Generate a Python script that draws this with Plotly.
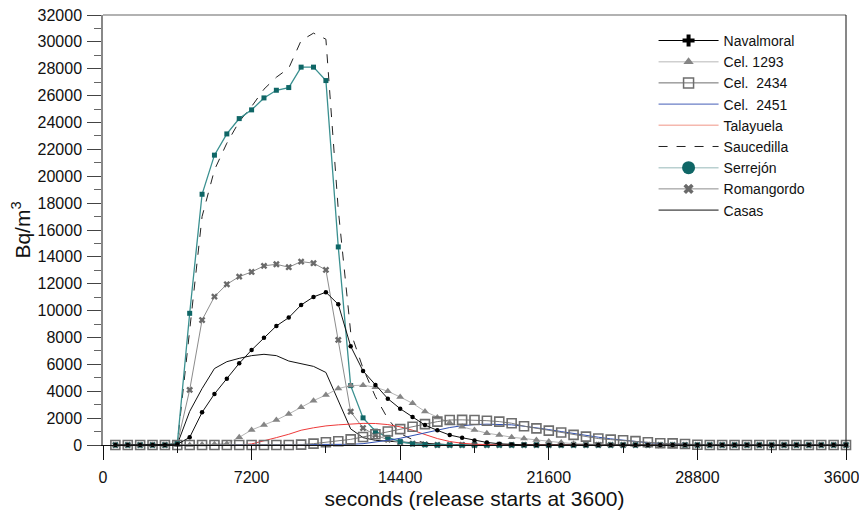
import plotly.graph_objects as go

# sample times (s)
times = [600, 1200, 1800, 2400, 3000, 3600, 4200, 4800, 5400, 6000,
         6600, 7200, 7800, 8400, 9000, 9600, 10200, 10800, 11400, 12000,
         12600, 13200, 13800, 14400, 15000, 15600, 16200, 16800, 17400, 18000,
         18600, 19200, 19800, 20400, 21000, 21600, 22200, 22800, 23400, 24000,
         24600, 25200, 25800, 26400, 27000, 27600, 28200, 28800, 29400, 30000,
         30600, 31200, 31800, 32400, 33000, 33600, 34200, 34800, 35400, 36000]

Z10 = [0] * 10

navalmoral = ([0, 0, 0, 0, 0, 50, 570, 2430, 3800, 4930] +
              [6080, 7070, 7990, 8860, 9480, 10420, 11020, 11370, 10470, 7350] +
              [5510, 4460, 3450, 2700, 2080, 1480, 1090, 740, 540, 340] +
              [190, 90, 30, 10, 0, 0, 0, 0, 0, 0] + Z10 + Z10)
cel1293 = ([0, 0, 0, 0, 0, 0, 0, 30, 60, 100] +
           [570, 1120, 1490, 1860, 2310, 2810, 3300, 3720, 4200, 4420] +
           [4450, 4300, 4000, 3570, 3100, 2500, 2050, 1650, 1350, 1120] +
           [880, 740, 580, 480, 370, 260, 180, 100, 50, 20] + Z10 + Z10)
cel2434 = (Z10 +
           [0, 0, 0, 0, 0, 30, 100, 200, 280, 420] +
           [600, 800, 1000, 1180, 1360, 1550, 1740, 1860, 1870, 1860] +
           [1810, 1740, 1620, 1400, 1240, 1070, 930, 750, 620, 480] +
           [400, 350, 290, 200, 130, 120, 70, 20, 0, 0] + Z10)
cel2451 = (Z10 +
           [0, 0, 0, 0, 0, 0, 0, 0, 20, 50] +
           [100, 200, 350, 500, 700, 900, 1100, 1300, 1430, 1520] +
           [1550, 1550, 1500, 1400, 1300, 1150, 1000, 850, 700, 580] +
           [460, 350, 250, 170, 110, 70, 40, 20, 0, 0] + Z10)
talayuela = ([0, 0, 0, 0, 0, 0, 0, 0, 0, 0] +
             [0, 80, 300, 550, 800, 1100, 1280, 1420, 1500, 1570] +
             [1610, 1600, 1520, 1350, 1100, 780, 480, 260, 130, 60] +
             [20, 0, 0, 0, 0, 0, 0, 0, 0, 0] + Z10 + Z10)
saucedilla = ([0, 0, 0, 0, 0, 100, 8500, 17000, 20470, 22460] +
              [24070, 25190, 26480, 27370, 28040, 30100, 30650, 30200, 17500, 8400] +
              [5700, 3600, 1950, 850, 400, 150, 50, 0, 0, 0] + Z10 + Z10 + Z10)
serrejon = ([0, 0, 0, 0, 0, 100, 9800, 18660, 21570, 23150] +
            [24290, 24940, 25830, 26400, 26600, 28120, 28120, 27120, 14740, 4420] +
            [2020, 1030, 570, 250, 80, 20, 0, 0, 0, 0] + Z10 + Z10 + Z10)
romangordo = ([0, 0, 0, 0, 0, 100, 4100, 9300, 11040, 11960] +
              [12530, 12880, 13330, 13450, 13230, 13650, 13530, 13030, 7820, 2480] +
              [1260, 740, 400, 200, 100, 40, 0, 0, 0, 0] + Z10 + Z10 + Z10)
casas = ([0, 0, 0, 0, 0, 50, 2500, 4200, 5690, 6200] +
         [6450, 6650, 6750, 6650, 6250, 6050, 5850, 5400, 3300, 1200] +
         [550, 350, 280, 220, 150, 100, 50, 20, 0, 0] + Z10 + Z10 + Z10)

x_ticks = [0, 7200, 14400, 21600, 28800, 36000]
y_ticks = list(range(0, 32001, 2000))

FONT = "Liberation Sans, Arial, sans-serif"

fig = go.Figure()

def add(y, name, line, marker=None, mode="lines"):
    fig.add_trace(go.Scatter(x=times, y=y, name=name, mode=mode, line=line,
                             marker=marker, showlegend=False, cliponaxis=False))

add(casas, "Casas", dict(color="#111111", width=1))
add(romangordo, "Romangordo", dict(color="#8c8c8c", width=1),
    dict(symbol="x", size=6, color="#6a6a6a"), "lines+markers")
add(saucedilla, "Saucedilla", dict(color="#222222", width=1, dash="dash"))
add(serrejon, "Serrejón", dict(color="#3a9090", width=1.3),
    dict(symbol="square", size=5, color="#0f6666"), "lines+markers")
add(talayuela, "Talayuela", dict(color="#ee3a3a", width=1))
add(cel2451, "Cel. 2451", dict(color="#2f4fb0", width=1))
add(cel1293, "Cel. 1293", dict(color="#b5b5b5", width=1),
    dict(symbol="triangle-up", size=7, color="#858585"), "lines+markers")
add(cel2434, "Cel. 2434", dict(color="#7a7a7a", width=1),
    dict(symbol="square-open", size=9, color="#6e6e6e", line=dict(width=1.6)), "lines+markers")
add(navalmoral, "Navalmoral", dict(color="#111111", width=1),
    dict(symbol="circle", size=4.5, color="#000000"), "lines+markers")

# legend entries (legend-only)
def leg(name, line, marker=None, mode="lines"):
    fig.add_trace(go.Scatter(x=[None], y=[None], name=name, mode=mode,
                             line=line, marker=marker, showlegend=True))

leg("Navalmoral", dict(color="#000000", width=1.2),
    dict(symbol="cross", size=10, color="#000000"), "lines+markers")
leg("Cel. 1293", dict(color="#cfcfcf", width=1.5),
    dict(symbol="triangle-up", size=9, color="#858585"), "lines+markers")
leg("Cel.  2434", dict(color="#6e6e6e", width=1),
    dict(symbol="square-open", size=10, color="#6e6e6e", line=dict(width=1.5)), "lines+markers")
leg("Cel.  2451", dict(color="#6a7ec6", width=1.2))
leg("Talayuela", dict(color="#f5b8ae", width=1.5))
leg("Saucedilla", dict(color="#222222", width=1, dash="dash"))
leg("Serrejón", dict(color="#b9d0d0", width=1.5),
    dict(symbol="circle", size=13, color="#0f6666"), "lines+markers")
leg("Romangordo", dict(color="#8c8c8c", width=1),
    dict(symbol="x", size=9, color="#6a6a6a"), "lines+markers")
leg("Casas", dict(color="#111111", width=1))

# the page adds an 8px body margin, so the figure is placed 8px in from the window corner
fig.update_layout(
    width=859, height=502,
    margin=dict(l=95, r=21, t=7, b=65),
    paper_bgcolor="white", plot_bgcolor="white",
    font=dict(family=FONT, size=16, color="#111111"),
    legend=dict(x=0.741, y=0.977, xanchor="left", yanchor="top",
                font=dict(size=14, family=FONT), bgcolor="rgba(0,0,0,0)",
                itemwidth=60, tracegroupgap=0),
    xaxis=dict(range=[0, 36000], tickvals=x_ticks, ticktext=[str(v) for v in x_ticks],
               ticks="outside", ticklen=14, tickwidth=1, tickcolor="#111111",
               showline=True, linecolor="#111111", linewidth=1,
               showgrid=False, zeroline=False, automargin=False,
               ticklabeloverflow="allow",
               minor=dict(dtick=3600, tick0=0, ticks="outside", ticklen=7, tickcolor="#111111"),
               tickfont=dict(size=16), ticklabelstandoff=4,
               title=dict(text="seconds (release starts at 3600)", font=dict(size=21), standoff=6)),
    yaxis=dict(range=[0, 32000], tickvals=y_ticks, ticktext=[str(v) for v in y_ticks],
               ticks="outside", ticklen=14, tickwidth=1, tickcolor="#444444",
               showline=True, linecolor="#888888", linewidth=1.5,
               showgrid=False, zeroline=False, automargin=False,
               ticklabeloverflow="allow",
               minor=dict(dtick=1000, ticks="outside", ticklen=7, tickcolor="#666666"),
               tickfont=dict(size=16), ticklabelstandoff=2,
               title=dict(text="Bq/m<sup>3</sup>", font=dict(size=21), standoff=6)),
    shapes=[
        dict(type="line", xref="paper", yref="paper", x0=0, x1=1, y0=1, y1=1,
             line=dict(color="#999999", width=1.5)),
        dict(type="line", xref="paper", yref="paper", x0=1, x1=1, y0=0, y1=1,
             line=dict(color="#111111", width=1)),
    ],
)

fig.write_html("out.html")
